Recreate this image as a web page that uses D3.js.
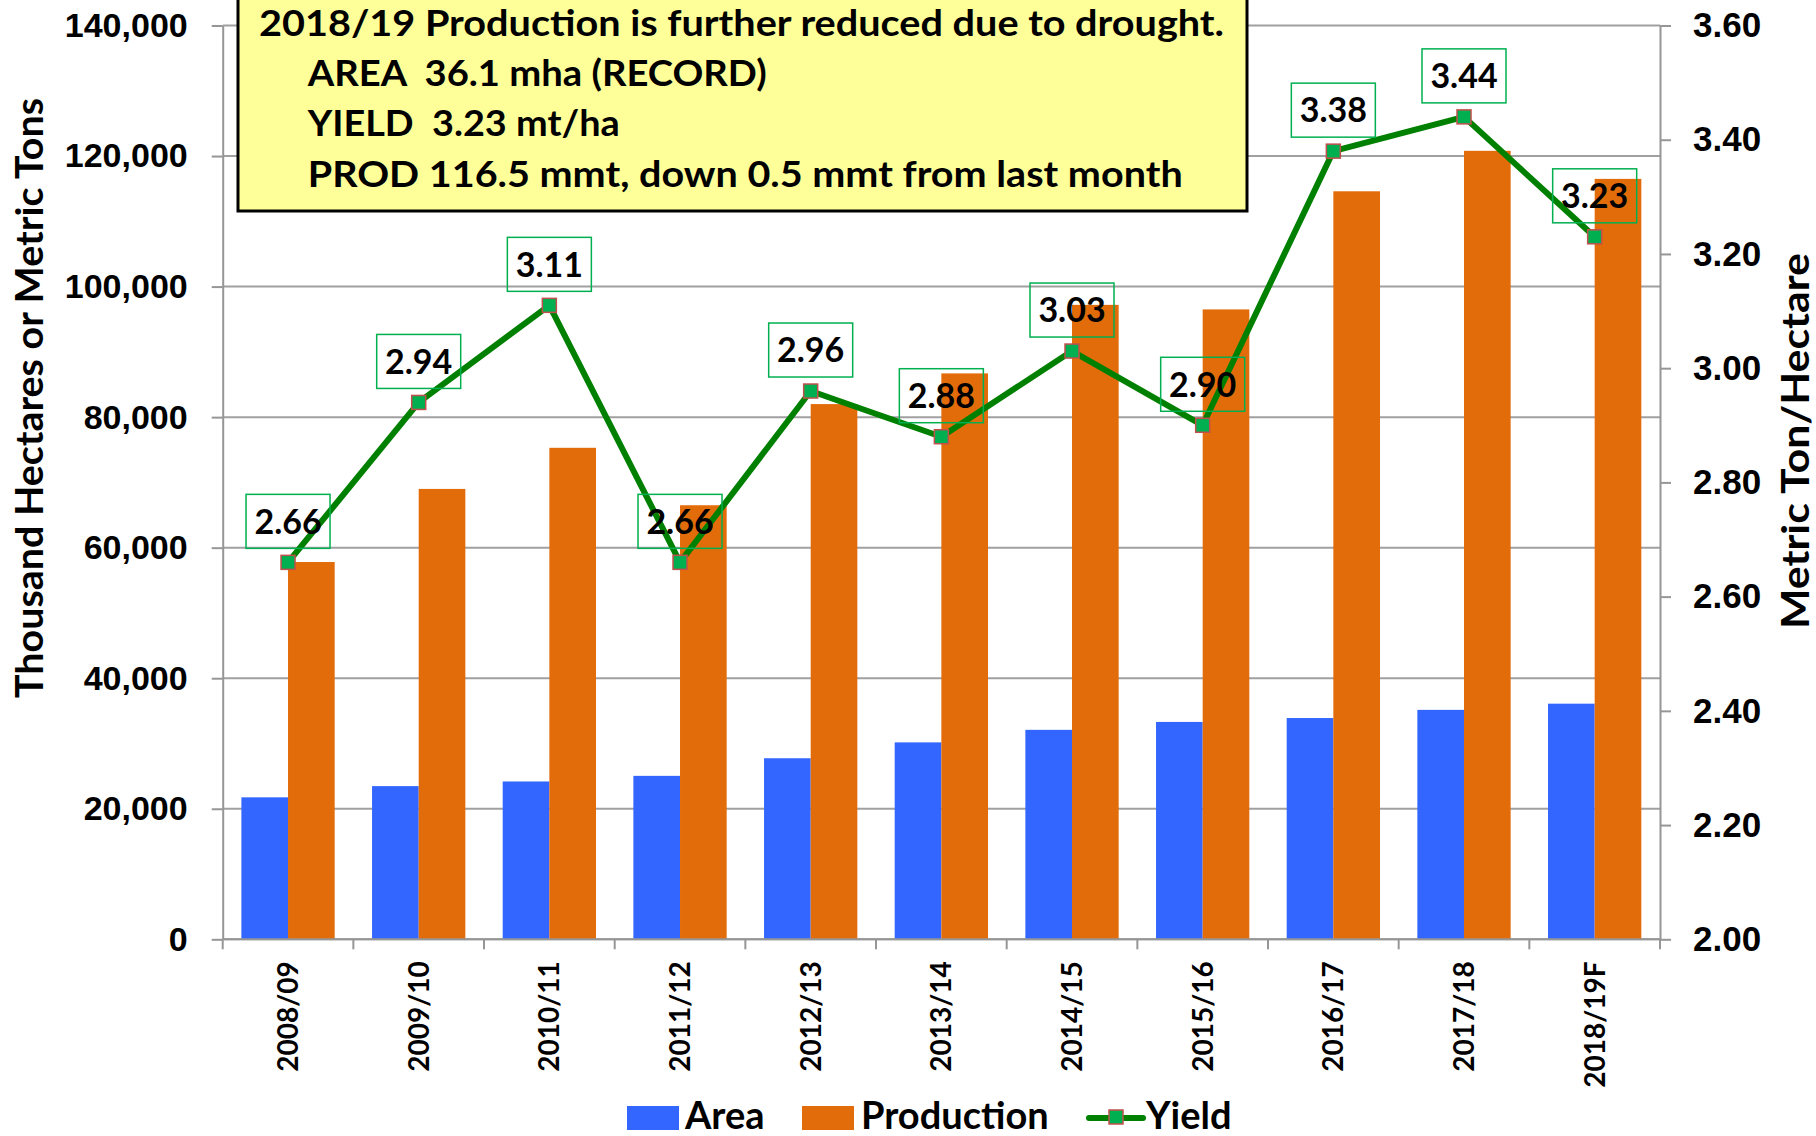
<!DOCTYPE html>
<html>
<head>
<meta charset="utf-8">
<script src="https://cdn.jsdelivr.net/npm/d3@7"></script>
<style>
  body { margin: 0; background: #fff; }
  svg { font-family: Lato, "Open Sans", sans-serif; font-weight: bold; }
  .grid line { stroke: #a0a0a0; stroke-width: 2; }
  .axis path, .axis line { stroke: #969696; stroke-width: 2; }
  .axis text { fill: #000; font-size: 34px; font-weight: bold; }
  .note text { white-space: pre; }
</style>
</head>
<body>
<svg id="chart" width="1816" height="1136"></svg>
<script>
// Chart data
const years = ['2008/09', '2009/10', '2010/11', '2011/12', '2012/13', '2013/14',
  '2014/15', '2015/16', '2016/17', '2017/18', '2018/19F'];
const area = [21750, 23470, 24180, 25040, 27740, 30170, 32090, 33300, 33900, 35150, 36100];
const production = [57800, 69000, 75300, 66500, 82000, 86700, 97200, 96500, 114600, 120800, 116500];
const yieldValues = [2.66, 2.94, 3.11, 2.66, 2.96, 2.88, 3.03, 2.90, 3.38, 3.44, 3.23];
const leftTicks = [0, 20000, 40000, 60000, 80000, 100000, 120000, 140000];
const rightTicks = [2.0, 2.2, 2.4, 2.6, 2.8, 3.0, 3.2, 3.4, 3.6];
const noteLines = [
  '2018/19 Production is further reduced due to drought.',
  'AREA  36.1 mha (RECORD)',
  'YIELD  3.23 mt/ha',
  'PROD 116.5 mmt, down 0.5 mmt from last month'
];

const colors = { area: '#3366ff', production: '#e36c0a', line: '#008000', marker: '#00b050', markerEdge: '#c0504d' };

const margin = { top: 25.5, right: 156, bottom: 196.7, left: 222.7 };
const svgEl = d3.select('#chart');
const width = 1816 - margin.left - margin.right;
const height = 1136 - margin.top - margin.bottom;
const svg = svgEl.append('g').attr('transform', `translate(${margin.left},${margin.top})`);

const x = d3.scaleBand().domain(years).range([0, width]);
const y = d3.scaleLinear().domain([0, 140000]).range([height, 0]);
const y2 = d3.scaleLinear().domain([2.0, 3.6]).range([height, 0]);

const bw = x.bandwidth();
const barW = bw * 0.357;
const groupOffset = (bw - 2 * barW) / 2;

// gridlines from the left axis
svg.append('g').attr('class', 'grid')
  .selectAll('line')
  .data(leftTicks)
  .enter().append('line')
  .attr('x1', 0).attr('x2', width)
  .attr('y1', d => y(d)).attr('y2', d => y(d));

// bars
svg.append('g').selectAll('rect')
  .data(years)
  .enter().append('rect')
  .attr('x', d => x(d) + groupOffset)
  .attr('y', (d, i) => y(area[i]))
  .attr('width', barW)
  .attr('height', (d, i) => height - y(area[i]))
  .attr('fill', colors.area);

svg.append('g').selectAll('rect')
  .data(years)
  .enter().append('rect')
  .attr('x', d => x(d) + groupOffset + barW)
  .attr('y', (d, i) => y(production[i]))
  .attr('width', barW)
  .attr('height', (d, i) => height - y(production[i]))
  .attr('fill', colors.production);

// left axis
svg.append('g').attr('class', 'axis')
  .call(d3.axisLeft(y).tickValues(leftTicks).tickSize(11).tickSizeOuter(0)
    .tickPadding(24).tickFormat(d3.format(',')));

// right axis
svg.append('g').attr('class', 'axis')
  .attr('transform', `translate(${width},0)`)
  .call(d3.axisRight(y2).tickValues(rightTicks).tickSize(11).tickSizeOuter(0)
    .tickPadding(22).tickFormat(d3.format('.2f')))
  .selectAll('text').style('font-size', '35px');

// bottom axis: line, ticks between categories, rotated labels
const xAxis = svg.append('g').attr('class', 'axis');
xAxis.append('line')
  .attr('x1', 0).attr('x2', width)
  .attr('y1', height).attr('y2', height);
xAxis.selectAll('.xtick')
  .data(years.concat(['end']))
  .enter().append('line')
  .attr('class', 'xtick')
  .attr('x1', (d, i) => i * bw).attr('x2', (d, i) => i * bw)
  .attr('y1', height).attr('y2', height + 10);
xAxis.selectAll('text')
  .data(years)
  .enter().append('text')
  .attr('transform', d => `translate(${x(d) + bw / 2},${height + 22}) rotate(-90)`)
  .attr('text-anchor', 'end')
  .attr('dy', '0.36em')
  .style('font-size', '28px')
  .text(d => d);

// yield line
const line = d3.line()
  .x((d, i) => x(years[i]) + bw / 2)
  .y(d => y2(d));

svg.append('path')
  .datum(yieldValues)
  .attr('fill', 'none')
  .attr('stroke', colors.line)
  .attr('stroke-width', 6)
  .attr('stroke-linejoin', 'round')
  .attr('d', line);

svg.append('g').selectAll('rect')
  .data(yieldValues)
  .enter().append('rect')
  .attr('x', (d, i) => x(years[i]) + bw / 2 - 7)
  .attr('y', d => y2(d) - 7)
  .attr('width', 14).attr('height', 14)
  .attr('fill', colors.marker)
  .attr('stroke', colors.markerEdge)
  .attr('stroke-width', 1.5);

// data labels in green boxes
const labels = svg.append('g').selectAll('g')
  .data(yieldValues)
  .enter().append('g')
  .attr('transform', (d, i) => `translate(${x(years[i]) + bw / 2},${y2(d) - 41})`);

labels.append('rect')
  .attr('x', -42).attr('y', -27)
  .attr('width', 84).attr('height', 54)
  .attr('fill', 'none')
  .attr('stroke', colors.marker)
  .attr('stroke-width', 1.5);

labels.append('text')
  .attr('text-anchor', 'middle')
  .attr('dy', '0.36em')
  .style('font-size', '34px')
  .text(d => d.toFixed(2));

// annotation box
const note = svgEl.append('g').attr('class', 'note');
note.append('rect')
  .attr('x', 238).attr('y', -4)
  .attr('width', 1009).attr('height', 215)
  .attr('fill', '#ffff99')
  .attr('stroke', '#000')
  .attr('stroke-width', 3);

const noteX = [259, 307.7, 307.7, 307.7];
const noteW = [965, 459, 312, 875];
note.selectAll('text')
  .data(noteLines)
  .enter().append('text')
  .attr('x', (d, i) => noteX[i])
  .attr('y', (d, i) => 36 + i * 50.2)
  .attr('textLength', (d, i) => noteW[i])
  .attr('lengthAdjust', 'spacingAndGlyphs')
  .style('font-size', '36px')
  .text(d => d);

// axis titles
svgEl.append('text')
  .attr('transform', 'translate(29,398) rotate(-90)')
  .attr('text-anchor', 'middle')
  .attr('dy', '0.36em')
  .attr('textLength', 600)
  .attr('lengthAdjust', 'spacingAndGlyphs')
  .style('font-size', '38px')
  .text('Thousand Hectares or Metric Tons');

svgEl.append('text')
  .attr('transform', 'translate(1795,441) rotate(-90)')
  .attr('text-anchor', 'middle')
  .attr('dy', '0.36em')
  .attr('textLength', 376)
  .attr('lengthAdjust', 'spacingAndGlyphs')
  .style('font-size', '38px')
  .text('Metric Ton/Hectare');

// legend
const legend = svgEl.append('g').style('font-size', '38px');
legend.append('rect').attr('x', 627).attr('y', 1106).attr('width', 52).attr('height', 24).attr('fill', colors.area);
legend.append('text').attr('x', 685).attr('y', 1129).text('Area');
legend.append('rect').attr('x', 802).attr('y', 1106).attr('width', 52).attr('height', 24).attr('fill', colors.production);
legend.append('text').attr('x', 861).attr('y', 1129).text('Production');
legend.append('line')
  .attr('x1', 1089).attr('x2', 1143).attr('y1', 1118).attr('y2', 1118)
  .attr('stroke', colors.line).attr('stroke-width', 6).attr('stroke-linecap', 'round');
legend.append('rect')
  .attr('x', 1109).attr('y', 1110).attr('width', 14).attr('height', 14)
  .attr('fill', colors.marker).attr('stroke', colors.markerEdge).attr('stroke-width', 1.5);
legend.append('text').attr('x', 1146).attr('y', 1129).text('Yield');
</script>
</body>
</html>
